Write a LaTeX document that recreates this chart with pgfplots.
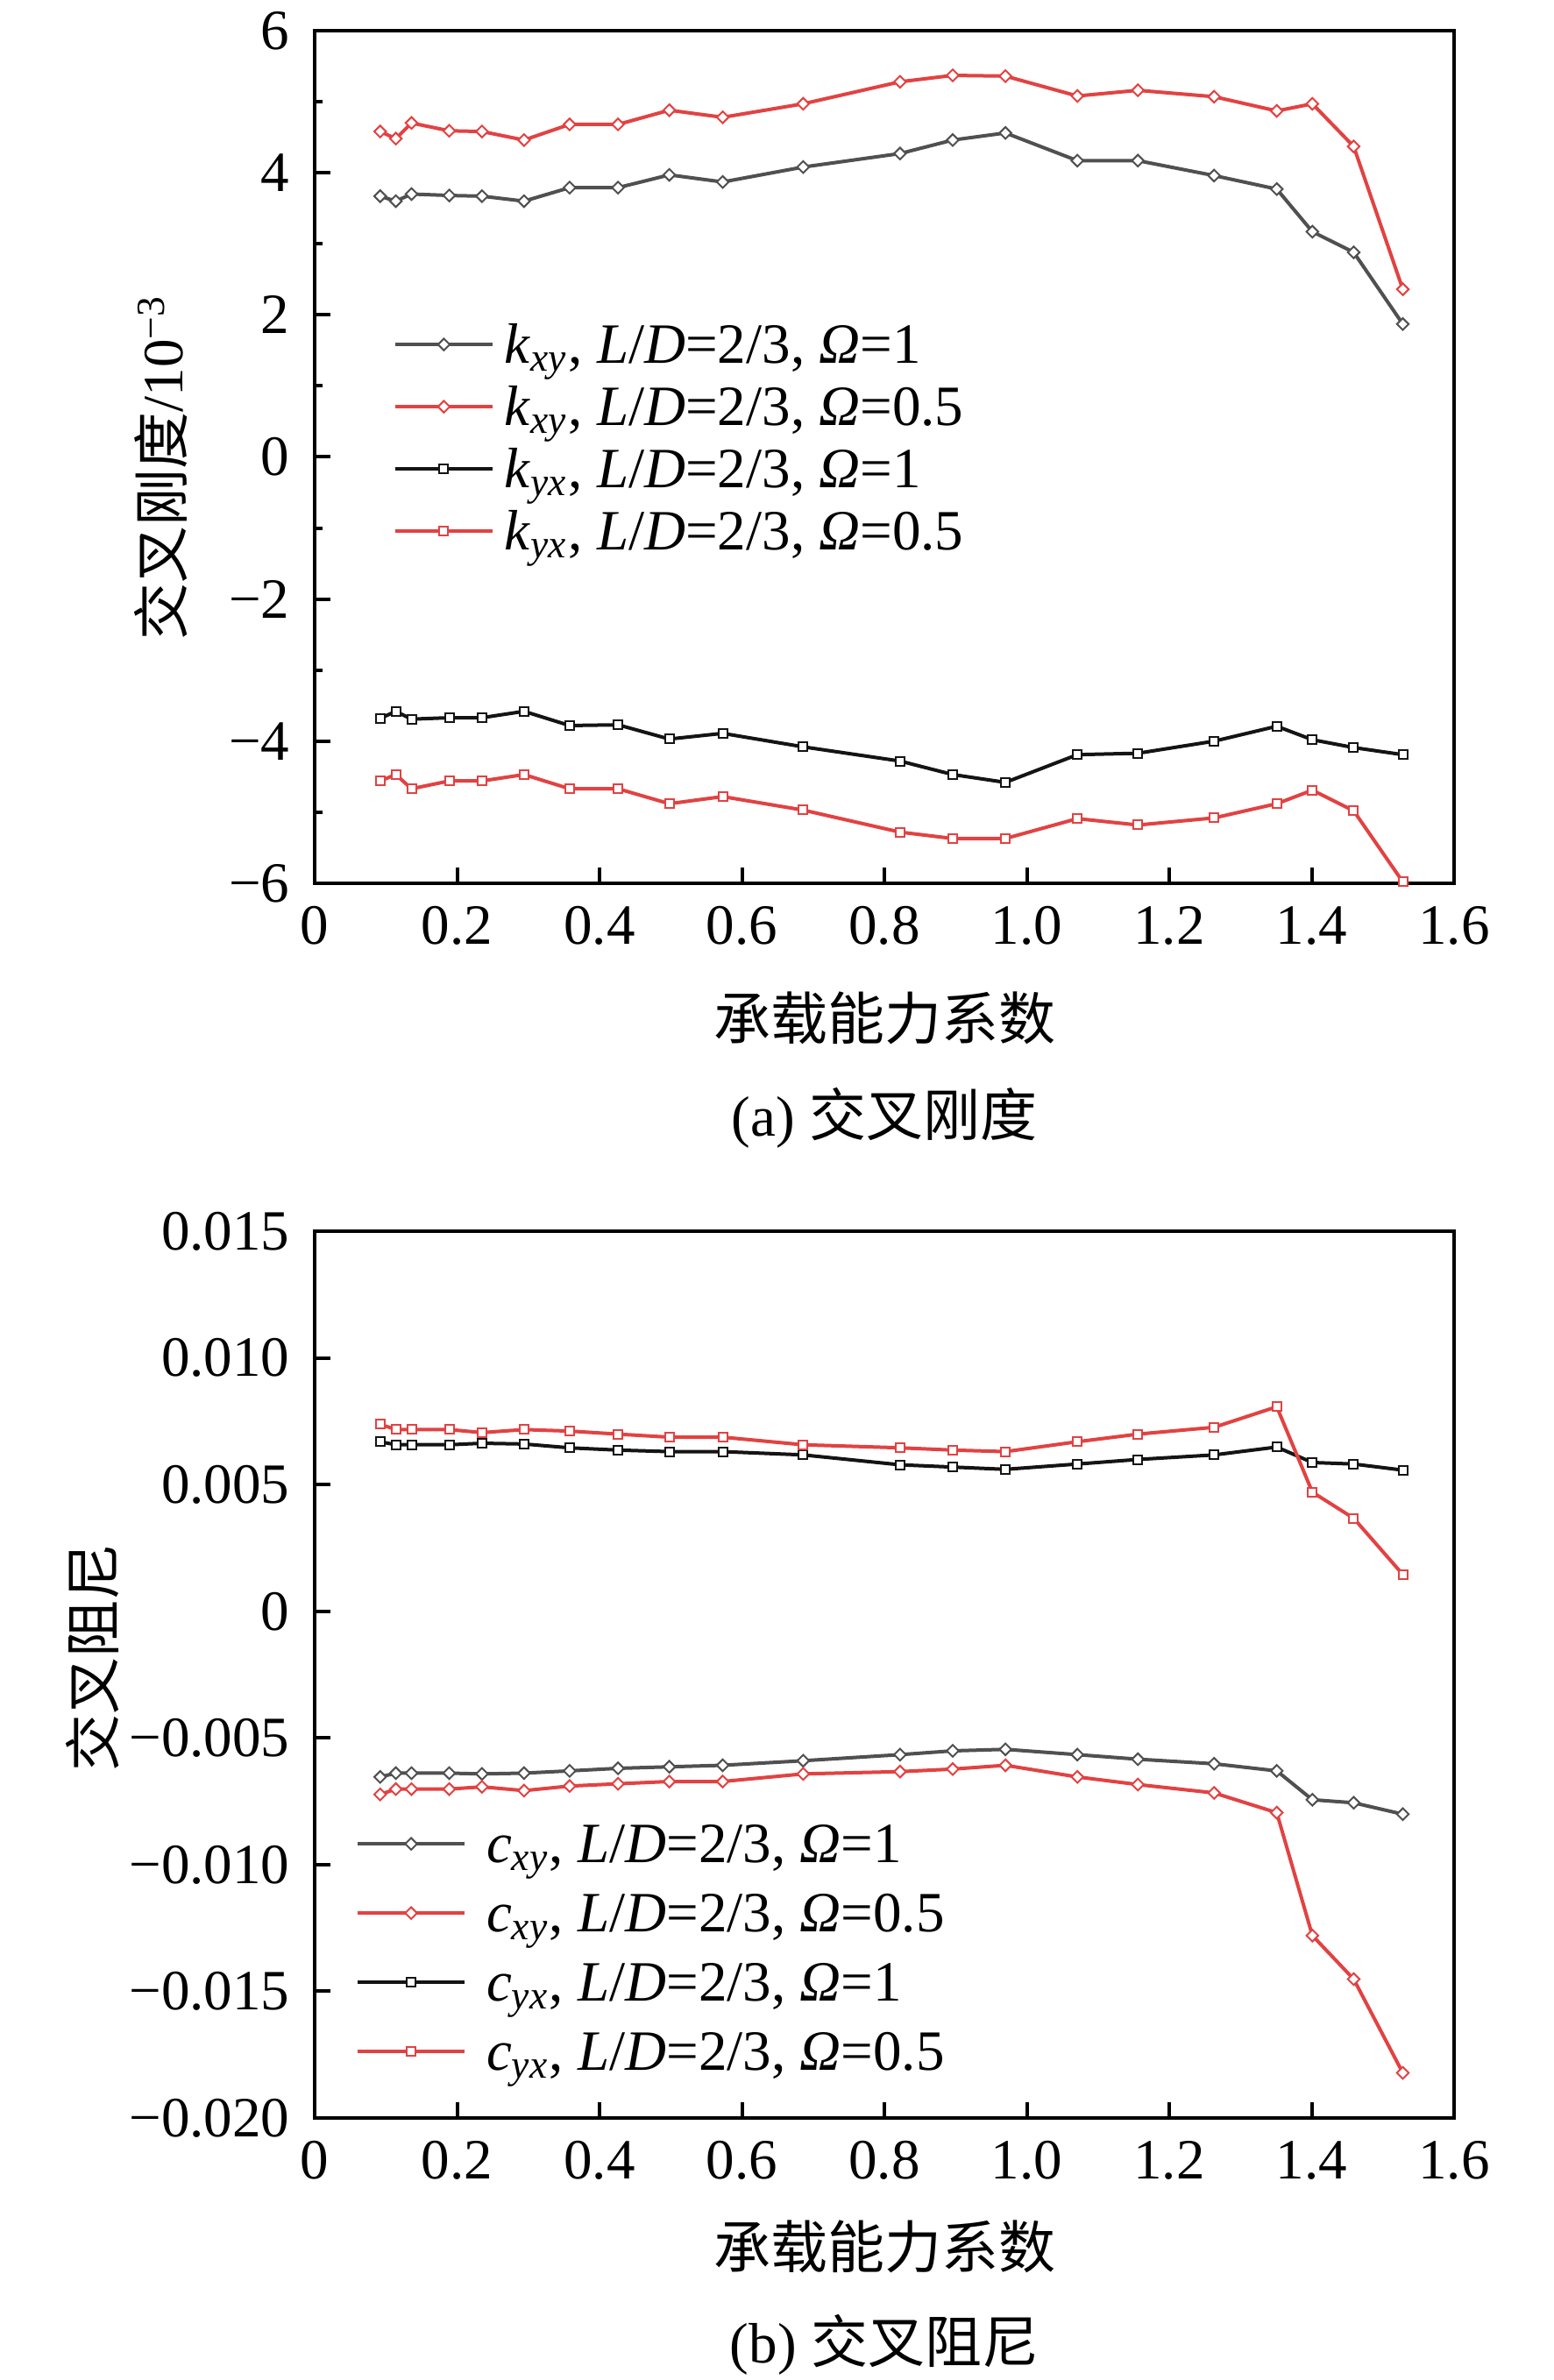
\documentclass[border=0pt]{standalone}
\usepackage{fontspec}
\setmainfont{Liberation Serif}
\newfontfamily\cjk{Noto Sans CJK SC}
\usepackage{pgfplots}
\usepackage{pgfplotstable}
\pgfplotsset{compat=1.18}
\definecolor{cgray}{RGB}{80,80,80}
\definecolor{cred}{RGB}{226,66,66}
\definecolor{cblack}{RGB}{20,20,20}

\pgfplotstableread{
x     kxyA  kxyB  kyxA   kyxB
0.092 3.67  4.58  -3.68  -4.56
0.114 3.60  4.48  -3.58  -4.47
0.136 3.70  4.70  -3.69  -4.67
0.189 3.68  4.59  -3.67  -4.56
0.235 3.67  4.58  -3.67  -4.56
0.294 3.60  4.46  -3.58  -4.47
0.358 3.79  4.68  -3.78  -4.67
0.426 3.79  4.68  -3.77  -4.67
0.498 3.97  4.88  -3.97  -4.88
0.573 3.87  4.78  -3.89  -4.78
0.686 4.08  4.97  -4.08  -4.97
0.822 4.27  5.28  -4.28  -5.28
0.896 4.46  5.37  -4.47  -5.37
0.970 4.56  5.36  -4.58  -5.37
1.071 4.17  5.08  -4.19  -5.09
1.156 4.17  5.16  -4.17  -5.18
1.263 3.96  5.07  -4.00  -5.08
1.351 3.77  4.87  -3.79  -4.88
1.401 3.17  4.97  -3.98  -4.69
1.459 2.88  4.37  -4.09  -4.98
1.528 1.87  2.36  -4.19  -5.98
}\stiff

\pgfplotstableread{
x     cxyA      cxyB      cyxA     cyxB
0.092 -0.00654  -0.00723  0.00669  0.00738
0.114 -0.00639  -0.00702  0.00657  0.00717
0.136 -0.00639  -0.00702  0.00657  0.00717
0.189 -0.00639  -0.00702  0.00657  0.00717
0.235 -0.00642  -0.00693  0.00663  0.00705
0.294 -0.00639  -0.00708  0.00660  0.00717
0.358 -0.00630  -0.00690  0.00645  0.00711
0.426 -0.00620  -0.00681  0.00636  0.00699
0.498 -0.00614  -0.00672  0.00630  0.00687
0.573 -0.00608  -0.00672  0.00630  0.00687
0.686 -0.00590  -0.00642  0.00617  0.00657
0.822 -0.00566  -0.00633  0.00578  0.00645
0.896 -0.00551  -0.00623  0.00569  0.00636
0.970 -0.00545  -0.00608  0.00560  0.00630
1.071 -0.00566  -0.00654  0.00581  0.00669
1.156 -0.00584  -0.00684  0.00599  0.00699
1.263 -0.00602  -0.00717  0.00617  0.00726
1.351 -0.00630  -0.00795  0.00648  0.00807
1.401 -0.00744  -0.01280  0.00587  0.00470
1.459 -0.00756  -0.01452  0.00581  0.00367
1.528 -0.00801  -0.01822  0.00557  0.00145
}\damp

\pgfplotsset{
  common/.style={
    scale only axis, width=260pt, clip=false,
    xmin=0, xmax=1.6,
    xtick={0,0.2,0.4,0.6,0.8,1.0,1.2,1.4,1.6},
    xticklabels={0,0.2,0.4,0.6,0.8,1.0,1.2,1.4,1.6},
    tick pos=left, tick align=inside,
    major tick length=3.6pt, minor tick length=1.8pt,
    line width=0.8pt,
    every tick/.style={line width=0.8pt, black},
    tick label style={font=\fontsize{13pt}{15.6pt}\selectfont},
    label style={font=\fontsize{13pt}{15.6pt}\selectfont},
    title style={font=\fontsize{13pt}{15.6pt}\selectfont},
    yticklabel style={xshift=-1pt},
    xticklabel style={yshift=-0.5pt},
    legend cell align=left,
  },
  sgray/.style={color=cgray, line width=0.8pt, mark=square*, mark size=0.95pt,
    mark options={rotate=45, fill=white, line width=0.4pt, draw=cgray}},
  sredd/.style={color=cred, line width=0.8pt, mark=square*, mark size=0.95pt,
    mark options={rotate=45, fill=white, line width=0.4pt, draw=cred}},
  sblack/.style={color=cblack, line width=0.8pt, mark=square*, mark size=1pt,
    mark options={fill=white, line width=0.4pt, draw=cblack}},
  sreds/.style={color=cred, line width=0.8pt, mark=square*, mark size=1pt,
    mark options={fill=white, line width=0.4pt, draw=cred}},
}

\begin{document}
\fontsize{13pt}{15.6pt}\selectfont
\begin{tikzpicture}
\useasboundingbox (0,0) rectangle (354.4pt,543.2pt);

\begin{axis}[common,
  at={(71.8pt,341.6pt)}, anchor=south west, height=194.6pt,
  ymin=-6, ymax=6,
  ytick={-6,-4,-2,0,2,4,6},
  yticklabels={−6,−4,−2,0,2,4,6},
  minor y tick num=1,
  xlabel={\cjk 承载能力系数},
  xlabel style={at={(axis description cs:0.5,0)}, anchor=center, yshift=-30.8pt},
  ylabel={{\cjk 交叉刚度}/10\textsuperscript{−3}},
  ylabel style={at={(axis description cs:-0.1346,0.488)}, anchor=center},
  title={(a) {\cjk 交叉刚度}},
  title style={at={(axis description cs:0.5,0)}, anchor=center, yshift=-59.6pt},
  legend style={draw=none, fill=none, at={(axis description cs:0.0692,0.664)},
    anchor=north west, inner sep=0pt, outer sep=0pt, row sep=1.7pt, column sep=1.9pt,
    nodes={inner sep=0.5pt, text height=10pt, text depth=1.5pt,
      font=\fontsize{13pt}{15.6pt}\selectfont}},
  legend image code/.code={\draw[mark repeat=2,mark phase=2,#1] plot coordinates {(0pt,0pt)(11.1pt,0pt)(22.2pt,0pt)};},
]
\addplot[sgray]  table[x=x,y=kxyA]{\stiff};
\addlegendentry{\textit{k}\textsubscript{\textit{xy}}, \textit{L}/\textit{D}=2/3, \textit{Ω}=1}
\addplot[sredd]  table[x=x,y=kxyB]{\stiff};
\addlegendentry{\textit{k}\textsubscript{\textit{xy}}, \textit{L}/\textit{D}=2/3, \textit{Ω}=0.5}
\addplot[sblack] table[x=x,y=kyxA]{\stiff};
\addlegendentry{\textit{k}\textsubscript{\textit{yx}}, \textit{L}/\textit{D}=2/3, \textit{Ω}=1}
\addplot[sreds]  table[x=x,y=kyxB]{\stiff};
\addlegendentry{\textit{k}\textsubscript{\textit{yx}}, \textit{L}/\textit{D}=2/3, \textit{Ω}=0.5}
\end{axis}

\begin{axis}[common,
  at={(71.8pt,59.8pt)}, anchor=south west, height=202.4pt,
  ymin=-0.02, ymax=0.015,
  scaled y ticks=false,
  ytick={-0.02,-0.015,-0.01,-0.005,0,0.005,0.01,0.015},
  yticklabels={−0.020,−0.015,−0.010,−0.005,0,0.005,0.010,0.015},
  xlabel={\cjk 承载能力系数},
  xlabel style={at={(axis description cs:0.5,0)}, anchor=center, yshift=-29.4pt},
  ylabel={\cjk 交叉阻尼},
  ylabel style={at={(axis description cs:-0.195,0.519)}, anchor=center},
  title={(b) {\cjk 交叉阻尼}},
  title style={at={(axis description cs:0.5,0)}, anchor=center, yshift=-57.8pt},
  legend style={draw=none, fill=none, at={(axis description cs:0.0362,0.340)},
    anchor=north west, inner sep=0pt, outer sep=0pt, row sep=3.3pt, column sep=4.1pt,
    nodes={inner sep=0.5pt, text height=10pt, text depth=1.5pt,
      font=\fontsize{13pt}{15.6pt}\selectfont}},
  legend image code/.code={\draw[mark repeat=2,mark phase=2,#1] plot coordinates {(0pt,0pt)(12.2pt,0pt)(24.4pt,0pt)};},
]
\addplot[sgray]  table[x=x,y=cxyA]{\damp};
\addlegendentry{\textit{c}\textsubscript{\textit{xy}}, \textit{L}/\textit{D}=2/3, \textit{Ω}=1}
\addplot[sredd]  table[x=x,y=cxyB]{\damp};
\addlegendentry{\textit{c}\textsubscript{\textit{xy}}, \textit{L}/\textit{D}=2/3, \textit{Ω}=0.5}
\addplot[sblack] table[x=x,y=cyxA]{\damp};
\addlegendentry{\textit{c}\textsubscript{\textit{yx}}, \textit{L}/\textit{D}=2/3, \textit{Ω}=1}
\addplot[sreds]  table[x=x,y=cyxB]{\damp};
\addlegendentry{\textit{c}\textsubscript{\textit{yx}}, \textit{L}/\textit{D}=2/3, \textit{Ω}=0.5}
\end{axis}
\end{tikzpicture}
\end{document}
